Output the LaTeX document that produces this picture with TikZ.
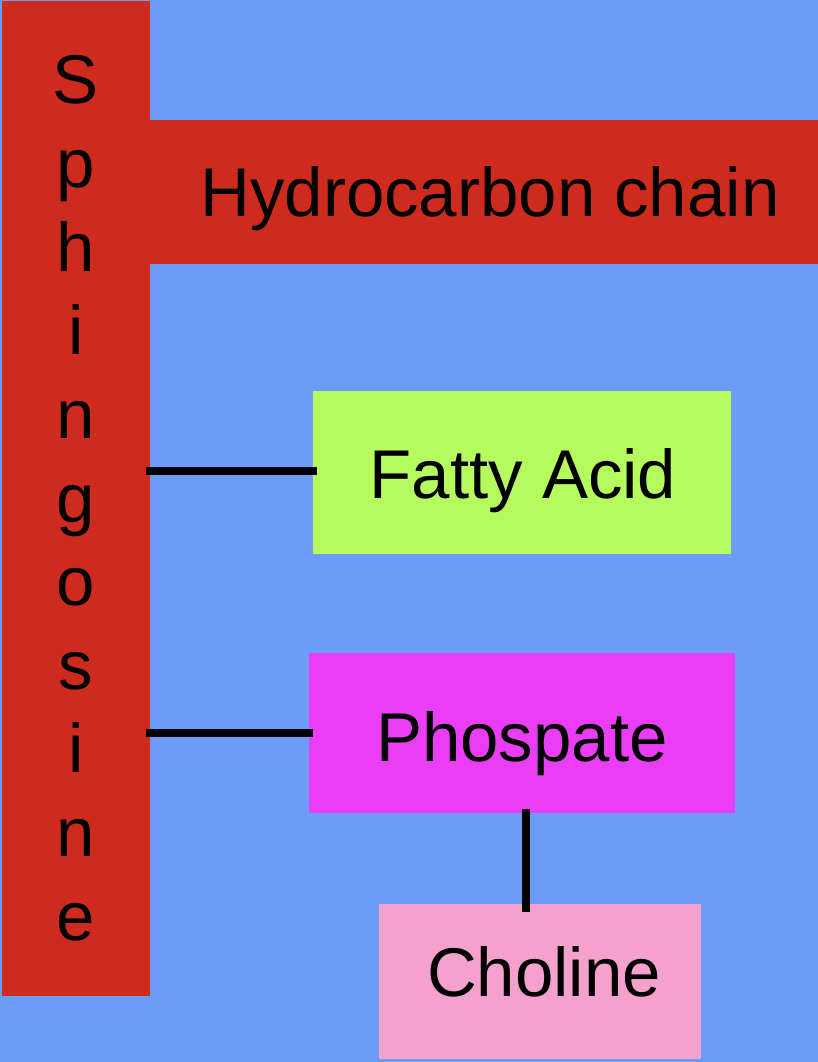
\documentclass[tikz,border=0pt]{standalone}
\usepackage{fontspec}
\setmainfont{Liberation Sans}
\usetikzlibrary{calc}
\definecolor{bgblue}{HTML}{6B9CF7}
\definecolor{barred}{HTML}{CE2B1E}
\definecolor{fagreen}{HTML}{B6FB5E}
\definecolor{phmag}{HTML}{EA3EF6}
\definecolor{chpink}{HTML}{F4A2CD}
\tikzset{
  blockbox/.style={draw=none, inner sep=0pt, outer sep=0pt, anchor=north west, rectangle},
  lbl/.style={inner sep=0pt, outer sep=0pt, anchor=base, font=\fontsize{69}{83}\selectfont, text=black},
  conn/.style={line width=8pt, black}
}
\begin{document}
\begin{tikzpicture}[x=1pt,y=-1pt]
\useasboundingbox (0,0) rectangle (818,1062);
\fill[bgblue] (0,0) rectangle (818,1062);
% bars
\node[blockbox, fill=barred, minimum width=148pt, minimum height=995pt] (sph) at (2,1) {};
\node[blockbox, fill=barred, minimum width=668pt, minimum height=144pt] (hc) at (150,120) {};
% boxes
\node[blockbox, fill=fagreen, minimum width=418pt, minimum height=163pt] (fa) at (313,391) {};
\node[blockbox, fill=phmag, minimum width=426pt, minimum height=160pt] (ph) at (309,653) {};
\node[blockbox, fill=chpink, minimum width=322pt, minimum height=155pt] (ch) at (379,904) {};
% labels
\node[lbl] (hct) at (490,216) {Hydrocarbon chain};
\node[lbl] (fat) at (523,498) {Fatty Acid};
\node[lbl] (pht) at (522,761) {Phospate};
\node[lbl] (cht) at (544,996) {Choline};
% vertical Sphingosine
\foreach \ch [count=\k from 0] in {S,p,h,i,n,g,o,s,i,n,e} {
  \node[lbl] (s\k) at (76,{104+83.6*\k}) {\ch};
}
% connectors
\draw[conn] ([xshift=-4pt,yshift=2pt]sph.east |- fa.west) -- ([xshift=4pt,yshift=2pt]fa.west);
\draw[conn] ([xshift=-4pt]sph.east |- ph.west) -- ([xshift=4pt]ph.west);
\draw[conn] ([xshift=4pt,yshift=4pt]ph.south) -- ([xshift=4pt,yshift=-8pt]ph.south |- ch.north);
\end{tikzpicture}
\end{document}
